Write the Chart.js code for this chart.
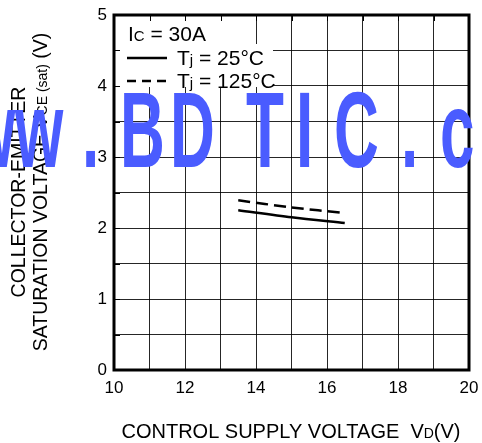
<!DOCTYPE html>
<html>
<head>
<meta charset="utf-8">
<script src="https://cdn.jsdelivr.net/npm/chart.js@4.4.1/dist/chart.umd.min.js"></script>
<style>
  body { margin: 0; background: #fff; }
  #wrap { width: 482px; height: 443px; }
</style>
</head>
<body>
<div id="wrap"><canvas id="chart" width="482" height="443"></canvas></div>
<script>
// control supply voltage VD (V)
const vdSupply = [13.5, 15, 16.5];
// VCE(sat) at Ic = 30A
const vce25 = [2.25, 2.15, 2.07];
const vce125 = [2.39, 2.29, 2.21];

const xTicks = [10, 12, 14, 16, 18, 20];
const yTicks = [0, 1, 2, 3, 4, 5];

const FONT = "'Liberation Sans', Arial, sans-serif";
Chart.defaults.font.family = FONT;
Chart.defaults.color = '#000';

/**
 * draw text made of runs with different sizes on one baseline
 */
function drawRuns(ctx, x, y, runs, align) {
  var total = 0;
  runs.forEach(function (r) {
    ctx.font = r[1] + 'px ' + FONT;
    r.w = ctx.measureText(r[0]).width;
    total += r.w;
  });
  var cx = align === 'center' ? x - total / 2 : x;
  ctx.textAlign = 'left';
  ctx.textBaseline = 'alphabetic';
  runs.forEach(function (r) {
    ctx.font = r[1] + 'px ' + FONT;
    ctx.fillText(r[0], cx, y);
    cx += r.w;
  });
}

const decor = {
  id: 'decor',
  afterDatasetsDraw: function (chart) {
    var ctx = chart.ctx, a = chart.chartArea;
    var xs = chart.scales.x, ys = chart.scales.y;
    ctx.save();

    // legend backgrounds hide the grid
    ctx.fillStyle = '#fff';
    ctx.fillRect(a.left + 1, a.top + 1, 106, 28);
    ctx.fillRect(a.left + 1, a.top + 29, 158, 43);

    // inward ticks
    ctx.strokeStyle = '#000';
    ctx.lineWidth = 1;
    ctx.beginPath();
    for (var v = 10; v <= 20; v++) {
      var px = Math.round(xs.getPixelForValue(v)) + 0.5;
      ctx.moveTo(px, a.top);
      ctx.lineTo(px, a.top + 6);
    }
    for (var w = 0; w <= 5; w += 0.5) {
      var py = Math.round(ys.getPixelForValue(w)) + 0.5;
      ctx.moveTo(a.left, py);
      ctx.lineTo(a.left + 6, py);
    }
    ctx.stroke();

    // frame
    ctx.lineWidth = 3;
    ctx.strokeRect(a.left, a.top, a.right - a.left, a.bottom - a.top);

    // legend
    ctx.fillStyle = '#000';
    drawRuns(ctx, 128, 41, [['I', 21], ['C', 15], [' = 30A', 21]]);
    drawRuns(ctx, 177, 65, [['T', 21], ['j', 15], [' = 25°C', 21]]);
    drawRuns(ctx, 177, 88, [['T', 21], ['j', 15], [' = 125°C', 21]]);

    ctx.lineWidth = 2.5;
    ctx.beginPath();
    ctx.moveTo(127, 58);
    ctx.lineTo(167, 58);
    ctx.stroke();
    ctx.setLineDash([9, 6]);
    ctx.beginPath();
    ctx.moveTo(127, 81);
    ctx.lineTo(167, 81);
    ctx.stroke();
    ctx.setLineDash([]);

    ctx.restore();
  },
  afterDraw: function (chart) {
    var ctx = chart.ctx;
    ctx.save();
    ctx.fillStyle = '#000';

    // axis titles
    drawRuns(ctx, 291, 438, [['CONTROL SUPPLY VOLTAGE  V', 20], ['D', 14], ['(V)', 20]], 'center');

    ctx.save();
    ctx.translate(25, 192);
    ctx.rotate(-Math.PI / 2);
    drawRuns(ctx, 0, 0, [['COLLECTOR-EMITTER', 19.5]], 'center');
    ctx.restore();

    ctx.save();
    ctx.translate(47, 192);
    ctx.rotate(-Math.PI / 2);
    drawRuns(ctx, 0, 0, [['SATURATION VOLTAGE V', 19.5], ['CE (sat)', 14], [' (V)', 19.5]], 'center');
    ctx.restore();

    // watermark
    ctx.fillStyle = '#4a5cff';
    ctx.font = 'bold 107px ' + FONT;
    ctx.textBaseline = 'alphabetic';
    ctx.textAlign = 'left';
    var marks = [['w', -33], ['w', 15], ['.', 82], ['B', 120], ['D', 170], ['T', 246],
                 ['I', 296], ['C', 334], ['.', 401], ['c', 440], ['o', 490]];
    marks.forEach(function (m) {
      ctx.save();
      ctx.translate(m[1], 167);
      ctx.scale(0.58, 1);
      ctx.fillText(m[0], 0, 0);
      ctx.restore();
    });
    ctx.restore();
  }
};

new Chart(document.getElementById('chart'), {
  type: 'line',
  data: {
    labels: vdSupply,
    datasets: [
      {
        label: 'Tj = 25°C',
        data: vdSupply.map(function (x, i) { return { x: x, y: vce25[i] }; }),
        borderColor: '#000',
        borderWidth: 2.5,
        pointRadius: 0,
        tension: 0.3,
        fill: false
      },
      {
        label: 'Tj = 125°C',
        data: vdSupply.map(function (x, i) { return { x: x, y: vce125[i] }; }),
        borderColor: '#000',
        borderWidth: 2.5,
        borderDash: [12, 6],
        pointRadius: 0,
        tension: 0.3,
        fill: false
      }
    ]
  },
  options: {
    responsive: false,
    animation: false,
    devicePixelRatio: 1,
    layout: { padding: { top: 15, right: 13, left: 0, bottom: 0 } },
    plugins: { legend: { display: false }, tooltip: { enabled: false } },
    scales: {
      x: {
        type: 'linear',
        min: 10,
        max: 20,
        afterFit: function (s) { s.height = 73; s.paddingLeft = 0; s.paddingRight = 0; },
        grid: { color: 'rgba(0,0,0,0.85)', lineWidth: 1, drawTicks: false },
        border: { display: false },
        ticks: {
          stepSize: 1,
          autoSkip: false,
          maxRotation: 0,
          padding: 8,
          font: { size: 17 },
          color: '#000',
          callback: function (v) { return xTicks.indexOf(v) >= 0 ? String(v) : ''; }
        }
      },
      y: {
        min: 0,
        max: 5,
        afterFit: function (s) { s.width = 114; s.paddingTop = 0; s.paddingBottom = 0; },
        grid: { color: 'rgba(0,0,0,0.85)', lineWidth: 1, drawTicks: false },
        border: { display: false },
        ticks: {
          stepSize: 0.5,
          autoSkip: false,
          padding: 7,
          font: { size: 17 },
          color: '#000',
          callback: function (v) { return yTicks.indexOf(v) >= 0 ? String(v) : ''; }
        }
      }
    }
  },
  plugins: [decor]
});
</script>
</body>
</html>
